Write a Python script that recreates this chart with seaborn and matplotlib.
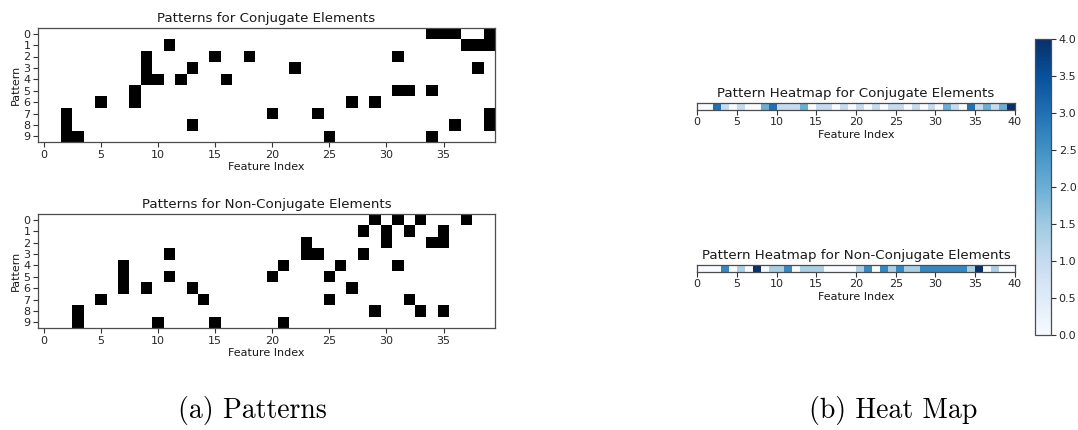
import numpy as np
import matplotlib
matplotlib.use("Agg")
import matplotlib.pyplot as plt
import seaborn as sns
from matplotlib.colors import ListedColormap

# Active feature indices for each of the 10 patterns (rows 0..9)
conjugate_rows = [
    [34, 35, 36, 39],
    [11, 37, 38, 39],
    [9, 15, 18, 31],
    [9, 13, 22, 38],
    [9, 10, 12, 16],
    [8, 31, 32, 34],
    [5, 8, 27, 29],
    [2, 20, 24, 39],
    [2, 13, 36, 39],
    [2, 3, 25, 34],
]
non_conjugate_rows = [
    [29, 31, 33, 37],
    [28, 30, 32, 35],
    [23, 30, 34, 35],
    [11, 23, 24, 28],
    [7, 21, 26, 31],
    [7, 11, 20, 25],
    [7, 9, 13, 27],
    [5, 14, 25, 32],
    [3, 29, 33, 35],
    [3, 10, 15, 21],
]
n_patterns = 10
n_features = 40
pattern_ticks = list(range(0, 40, 5))
heat_ticks = list(range(0, 41, 5))
cbar_ticks = [0.0, 0.5, 1.0, 1.5, 2.0, 2.5, 3.0, 3.5, 4.0]


def to_matrix(rows):
    mat = np.zeros((n_patterns, n_features))
    for r, cols in enumerate(rows):
        mat[r, cols] = 1
    return mat


conj_mat = to_matrix(conjugate_rows)
nonconj_mat = to_matrix(non_conjugate_rows)

W, H = 1078, 430
fig = plt.figure(figsize=(W / 100, H / 100), dpi=100)


def box(left, top, right, bottom):
    return [left / W, 1 - bottom / H, (right - left) / W, (bottom - top) / H]


FRAME = "0.3"
TITLE_FS = 9.6
LABEL_FS = 8
TICK_FS = 8


def frame(ax):
    for s in ax.spines.values():
        s.set_visible(True)
        s.set_color(FRAME)
        s.set_linewidth(0.9)


def pattern_panel(ax, mat, title):
    sns.heatmap(mat, ax=ax, cmap=ListedColormap(["white", "black"]),
                vmin=0, vmax=1, cbar=False,
                xticklabels=False, yticklabels=False)
    ax.set_xticks(np.array(pattern_ticks) + 0.5)
    ax.set_xticklabels([str(t) for t in pattern_ticks], rotation=0)
    ax.set_yticks(np.arange(n_patterns) + 0.5)
    ax.set_yticklabels([str(i) for i in range(n_patterns)], rotation=0)
    ax.tick_params(length=3.5, width=0.8, labelsize=TICK_FS, color="0.2",
                   labelcolor="0.15", pad=2)
    frame(ax)
    ax.set_title(title, fontsize=TITLE_FS, color="0.1", pad=4)
    ax.set_xlabel("Feature Index", fontsize=LABEL_FS, color="0.1", labelpad=2)
    ax.set_ylabel("Pattern", fontsize=LABEL_FS, color="0.1", labelpad=2)


def heat_panel(ax, mat, title, cax=None):
    sums = mat.sum(axis=0)
    sns.heatmap(sums.reshape(1, -1), ax=ax, cmap="Blues", vmin=0,
                vmax=sums.max(), cbar=cax is not None, cbar_ax=cax,
                xticklabels=False, yticklabels=False)
    ax.set_xticks(heat_ticks)
    ax.set_xticklabels([str(t) for t in heat_ticks], rotation=0)
    ax.set_yticks([])
    ax.tick_params(length=3.5, width=0.8, labelsize=TICK_FS, color="0.2",
                   labelcolor="0.15", pad=2)
    frame(ax)
    ax.set_title(title, fontsize=TITLE_FS, color="0.1", pad=4)
    ax.set_xlabel("Feature Index", fontsize=LABEL_FS, color="0.1", labelpad=2)


ax_pc = fig.add_axes(box(38, 28, 495, 142))
ax_pn = fig.add_axes(box(38, 214, 495, 328))
ax_hc = fig.add_axes(box(697, 102.7, 1015, 109.5))
ax_hn = fig.add_axes(box(697, 264.5, 1015, 271.5))
cax = fig.add_axes(box(1035, 39.3, 1051, 335))

pattern_panel(ax_pc, conj_mat, "Patterns for Conjugate Elements")
pattern_panel(ax_pn, nonconj_mat, "Patterns for Non-Conjugate Elements")
heat_panel(ax_hc, conj_mat, "Pattern Heatmap for Conjugate Elements", cax=cax)
heat_panel(ax_hn, nonconj_mat, "Pattern Heatmap for Non-Conjugate Elements")

cax.set_yticks(cbar_ticks)
cax.set_yticklabels([f"{t:.1f}" for t in cbar_ticks])
cax.tick_params(length=3.5, width=0.8, labelsize=TICK_FS, color="0.2",
                labelcolor="0.15", pad=2)
cb = ax_hc.collections[0].colorbar
cb.outline.set_linewidth(0.9)
cb.outline.set_edgecolor(FRAME)

fig.text(252 / W, 1 - 418 / H, "(a) Patterns", family="cmr10", fontsize=20,
         ha="center", va="baseline")
fig.text(893 / W, 1 - 418 / H, "(b) Heat Map", family="cmr10", fontsize=20,
         ha="center", va="baseline")

fig.savefig("out.png", dpi=100)
